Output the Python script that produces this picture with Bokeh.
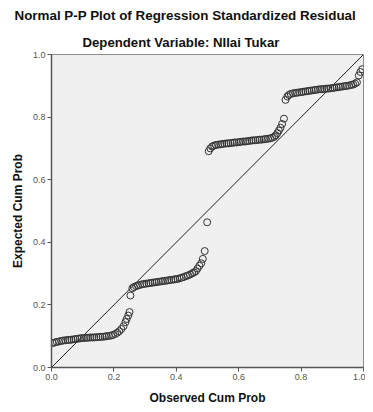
from bokeh.plotting import figure
from bokeh.models import FixedTicker, Range1d, PrintfTickFormatter, Title
from bokeh.embed import file_html
from bokeh.resources import INLINE

title_text = "Normal P-P Plot of Regression Standardized Residual"
subtitle_text = "Dependent Variable: NIlai Tukar"
x_label = "Observed Cum Prob"
y_label = "Expected Cum Prob"
ticks = [0.0, 0.2, 0.4, 0.6, 0.8, 1.0]

observed = [
    0.004, 0.011, 0.017, 0.024, 0.031, 0.037, 0.044, 0.051, 0.057, 0.064,
    0.071, 0.077, 0.084, 0.091, 0.097, 0.104, 0.111, 0.117, 0.124, 0.131,
    0.137, 0.144, 0.151, 0.157, 0.164, 0.171, 0.177, 0.184, 0.191, 0.197,
    0.204, 0.211, 0.217, 0.224, 0.231, 0.237, 0.241, 0.246, 0.250, 0.253,
    0.259, 0.264, 0.271, 0.277, 0.284, 0.291, 0.297, 0.304, 0.311, 0.317,
    0.324, 0.331, 0.337, 0.344, 0.351, 0.357, 0.364, 0.371, 0.377, 0.384,
    0.391, 0.397, 0.404, 0.411, 0.417, 0.424, 0.431, 0.437, 0.444, 0.451,
    0.457, 0.463, 0.468, 0.474, 0.480, 0.485, 0.491, 0.499,
    0.504, 0.509, 0.515, 0.521, 0.527, 0.534, 0.541, 0.547, 0.554, 0.561,
    0.567, 0.574, 0.581, 0.587, 0.594, 0.601, 0.607, 0.614, 0.621, 0.627,
    0.634, 0.641, 0.647, 0.654, 0.661, 0.667, 0.674, 0.681, 0.687, 0.694,
    0.701, 0.707, 0.714, 0.719, 0.724, 0.729, 0.734, 0.739, 0.745,
    0.750, 0.756, 0.761, 0.767, 0.774, 0.781, 0.787, 0.794, 0.801, 0.807,
    0.814, 0.821, 0.827, 0.834, 0.841, 0.847, 0.854, 0.861, 0.867, 0.874,
    0.881, 0.887, 0.894, 0.901, 0.907, 0.914, 0.921, 0.927, 0.934, 0.941,
    0.947, 0.954, 0.961, 0.967, 0.973, 0.979, 0.985, 0.990, 0.996,
]
expected = [
    0.078, 0.080, 0.082, 0.083, 0.085, 0.086, 0.087, 0.088, 0.088, 0.089,
    0.090, 0.091, 0.092, 0.093, 0.094, 0.094, 0.095, 0.095, 0.096, 0.096,
    0.096, 0.097, 0.097, 0.098, 0.098, 0.099, 0.100, 0.101, 0.102, 0.104,
    0.107, 0.111, 0.116, 0.123, 0.132, 0.145, 0.155, 0.166, 0.177, 0.230,
    0.253, 0.257, 0.260, 0.262, 0.264, 0.266, 0.267, 0.268, 0.269, 0.270,
    0.271, 0.272, 0.273, 0.274, 0.275, 0.276, 0.277, 0.278, 0.279, 0.280,
    0.281, 0.282, 0.283, 0.285, 0.287, 0.289, 0.292, 0.294, 0.297, 0.301,
    0.304, 0.308, 0.316, 0.325, 0.333, 0.347, 0.372, 0.464,
    0.691, 0.700, 0.706, 0.709, 0.711, 0.712, 0.713, 0.714, 0.715, 0.716,
    0.716, 0.717, 0.718, 0.719, 0.719, 0.720, 0.721, 0.722, 0.722, 0.723,
    0.724, 0.725, 0.726, 0.726, 0.727, 0.728, 0.728, 0.729, 0.730, 0.731,
    0.732, 0.734, 0.737, 0.742, 0.749, 0.757, 0.766, 0.778, 0.795,
    0.855, 0.866, 0.871, 0.874, 0.876, 0.877, 0.878, 0.879, 0.880, 0.881,
    0.882, 0.883, 0.884, 0.885, 0.886, 0.887, 0.888, 0.889, 0.889, 0.890,
    0.891, 0.891, 0.892, 0.893, 0.894, 0.895, 0.896, 0.897, 0.898, 0.899,
    0.900, 0.901, 0.903, 0.904, 0.907, 0.911, 0.933, 0.944, 0.953,
]
ref_line = [0.0, 1.0]

FONT = "Liberation Sans"

p = figure(width=365, height=412, output_backend="svg", toolbar_location=None,
           x_range=Range1d(0, 1), y_range=Range1d(0, 1),
           min_border_left=51, min_border_right=2, min_border_top=54,
           min_border_bottom=45)
p.background_fill_color = "#f0f0f0"
p.border_fill_color = "white"
p.outline_line_color = "#8c8c8c"
p.outline_line_width = 1
p.grid.visible = False

p.title = Title(text=title_text, align="left", offset=-37,
                text_font=FONT, text_font_size="13.4px", text_font_style="bold",
                text_color="#111111", standoff=9)
p.add_layout(Title(text=subtitle_text, align="left", offset=31,
                   text_font=FONT, text_font_size="13.2px", text_font_style="bold",
                   text_color="#111111", standoff=10), "above")

p.line(ref_line, ref_line, line_color="#222222", line_width=1)
p.scatter(observed, expected, marker="circle", size=7, fill_color=None,
          line_color="#333333", line_width=1)

for ax in (p.xaxis[0], p.yaxis[0]):
    ax.ticker = FixedTicker(ticks=ticks)
    ax.formatter = PrintfTickFormatter(format="%.1f")
    ax.axis_line_color = "#555555"
    ax.axis_line_width = 1.5
    ax.major_tick_line_color = "#555555"
    ax.major_tick_out = 4
    ax.major_tick_in = 0
    ax.minor_tick_line_color = None
    ax.major_label_text_font = FONT
    ax.major_label_text_font_size = "9px"
    ax.major_label_text_color = "#555555"
    ax.major_label_standoff = 2
    ax.axis_label_text_font = FONT
    ax.axis_label_text_font_size = "12px"
    ax.axis_label_text_font_style = "bold"
    ax.axis_label_text_color = "#111111"

p.xaxis[0].axis_label_standoff = 8
p.yaxis[0].axis_label_standoff = 5
p.xaxis.axis_label = x_label
p.yaxis.axis_label = y_label

open("out.html", "w").write(file_html(p, INLINE))
